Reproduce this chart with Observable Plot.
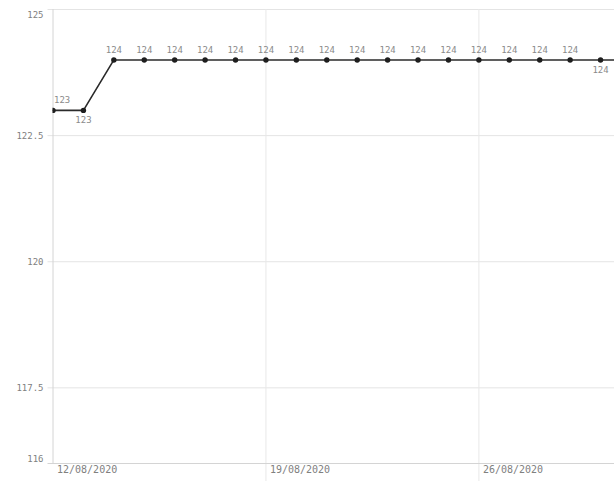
<!DOCTYPE html>
<html>
<head>
<meta charset="utf-8">
<script src="https://cdn.jsdelivr.net/npm/d3@7"></script>
<script src="https://cdn.jsdelivr.net/npm/@observablehq/plot@0.6"></script>
<style>
  html, body { margin: 0; padding: 0; background: #fff; overflow: hidden; }
</style>
</head>
<body>
<div id="chart"></div>
<script>
const dates = ["2020-08-12","2020-08-13","2020-08-14","2020-08-15","2020-08-16","2020-08-17","2020-08-18",
  "2020-08-19","2020-08-20","2020-08-21","2020-08-22","2020-08-23","2020-08-24","2020-08-25",
  "2020-08-26","2020-08-27","2020-08-28","2020-08-29","2020-08-30","2020-08-31"];
const values = [123,123,124,124,124,124,124,124,124,124,124,124,124,124,124,124,124,124,124,124];
const labelsBelow = ["2020-08-13","2020-08-30"];
const yTicks = [116,117.5,120,122.5,125];
const xTicks = ["2020-08-12","2020-08-19","2020-08-26"];
const xTickLabels = ["12/08/2020","19/08/2020","26/08/2020"];
const xEnd = "2020-08-30T11:00Z";

const data = dates.map((d, i) => ({date: new Date(d), key: d, value: values[i]}));
const first = data.slice(0, 1);
const above = data.slice(1).filter(d => !labelsBelow.includes(d.key));
const below = data.filter(d => labelsBelow.includes(d.key));
const xt = xTicks.map((d, i) => ({date: new Date(d), label: xTickLabels[i]}));
const yMid = yTicks.filter(t => t > yTicks[0] && t < yTicks[yTicks.length - 1]);

const chart = Plot.plot({
  width: 614,
  height: 481,
  marginTop: 9,
  marginBottom: 18,
  marginLeft: 52.5,
  marginRight: 0,
  x: {type: "utc", domain: [new Date(xTicks[0]), new Date(xEnd)], axis: null},
  y: {domain: [yTicks[0], yTicks[yTicks.length - 1]], axis: null},
  style: {fontFamily: "'DejaVu Sans Mono', monospace", background: "white", overflow: "hidden"},
  marks: [
    Plot.ruleY(yTicks.slice(1), {stroke: "#e4e4e4", insetLeft: -5}),
    Plot.ruleX(xt.slice(1), {x: "date", stroke: "#e8e8e8", insetBottom: -18}),
    Plot.ruleY([yTicks[0]], {stroke: "#d4d4d4", insetLeft: -5}),
    Plot.ruleX([xt[0]], {x: "date", stroke: "#d4d4d4"}),
    // y tick labels
    Plot.text(yMid, {x: xt[0].date, y: d => d, text: d => String(d), textAnchor: "end", dx: -9.5, fontSize: 9, fill: "#808080"}),
    Plot.text([yTicks[yTicks.length - 1]], {x: xt[0].date, y: d => d, text: d => String(d), textAnchor: "end", dx: -9.5, lineAnchor: "top", dy: 2, fontSize: 9, fill: "#808080"}),
    Plot.text([yTicks[0]], {x: xt[0].date, y: d => d, text: d => String(d), textAnchor: "end", dx: -9.5, lineAnchor: "bottom", dy: -2, fontSize: 9, fill: "#808080"}),
    // x tick labels
    Plot.text(xt, {x: "date", text: "label", frameAnchor: "bottom", textAnchor: "start", dx: 4, dy: 9, fontSize: 10, fill: "#808080"}),
    // series
    Plot.line(data, {x: "date", y: "value", stroke: "#2b2b2b", strokeWidth: 1.6, clip: true}),
    Plot.dot(data, {x: "date", y: "value", r: 2.7, fill: "#1e1e1e", stroke: "none", clip: true}),
    Plot.text(first, {x: "date", y: "value", text: d => String(d.value), dy: -10, dx: 1, textAnchor: "start", fontSize: 9, fill: "#8a8a8a"}),
    Plot.text(above, {x: "date", y: "value", text: d => String(d.value), dy: -10, fontSize: 9, fill: "#8a8a8a"}),
    Plot.text(below, {x: "date", y: "value", text: d => String(d.value), dy: 10, fontSize: 9, fill: "#8a8a8a"})
  ]
});
document.getElementById("chart").appendChild(chart);
</script>
</body>
</html>
